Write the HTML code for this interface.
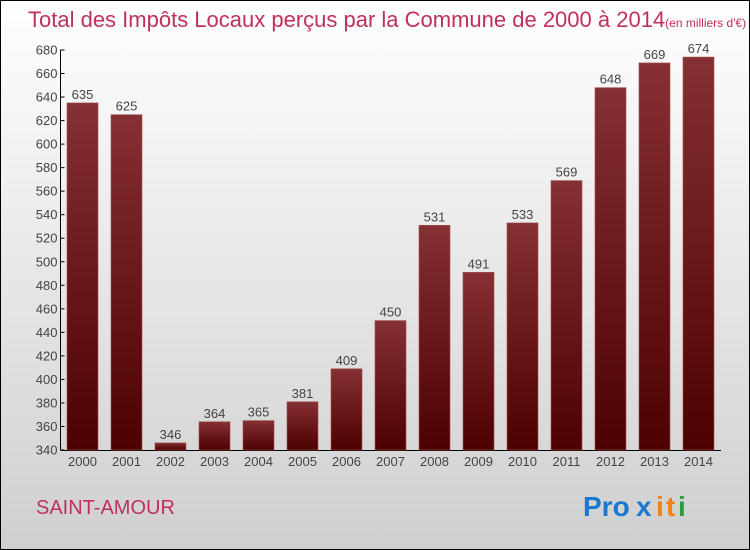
<!DOCTYPE html>
<html><head><meta charset="utf-8"><style>
html,body{margin:0;padding:0}
body{width:750px;height:550px;overflow:hidden}
svg{display:block;font-family:"Liberation Sans",sans-serif}
</style></head><body>
<svg id="c" width="750" height="550" xmlns="http://www.w3.org/2000/svg">
<defs>
<linearGradient id="bg" x1="0" y1="0" x2="0" y2="1"><stop offset="0" stop-color="#ffffff"/><stop offset="1" stop-color="#cfcfcf"/></linearGradient>
<linearGradient id="bar" x1="0" y1="0" x2="0" y2="1"><stop offset="0" stop-color="#853034"/><stop offset="1" stop-color="#4e0000"/></linearGradient>
</defs>
<rect x="0.5" y="0.5" width="749" height="549" fill="url(#bg)" stroke="#000"/>
<text x="28" y="27" font-size="22" fill="#c0305a">Total des Impôts Locaux perçus par la Commune de 2000 à 2014<tspan font-size="12">(en milliers d'€)</tspan></text>
<g id="axes"></g>
<g id="bars"></g>
<text x="36" y="514" font-size="20" fill="#c0305a">SAINT-AMOUR</text>
<g font-size="28" font-weight="bold">
<text x="583" y="516" fill="#1a78d0">Pro</text><text x="636" y="516" fill="#1a78d0">x</text><text x="656" y="516" fill="#f08010">i</text><text x="666" y="516" fill="#f08010">t</text><text x="678" y="516" fill="#2a9a3a">i</text>
</g>
</svg>
<script>
const categories=["2000","2001","2002","2003","2004","2005","2006","2007","2008","2009","2010","2011","2012","2013","2014"];
const values=[635,625,346,364,365,381,409,450,531,491,533,569,648,669,674];
const ticks=[340,360,380,400,420,440,460,480,500,520,540,560,580,600,620,640,660,680];
const NS="http://www.w3.org/2000/svg";
const y0=450,y1=50,vmin=340,vmax=680;
const yS=v=>y0-(v-vmin)*(y0-y1)/(vmax-vmin);
const x0=60.5,step=44,bw=31;
const xS=i=>x0+22+i*step;
function mk(t,a,p){const e=document.createElementNS(NS,t);for(const k in a)e.setAttribute(k,a[k]);p.appendChild(e);return e;}
const ax=document.getElementById('axes'),bg=document.getElementById('bars');
const yl=mk('line',{x1:x0,y1:y1,x2:x0,y2:y0,stroke:'#000'},ax);


const xl=mk('line',{x1:x0,y1:y0+0.5,x2:721,y2:y0+0.5,stroke:'#000'},ax);


ticks.forEach(t=>{
 const y=yS(t);
 mk('line',{x1:x0,y1:y,x2:x0+4,y2:y,stroke:'#000'},ax);
 const tx=mk('text',{x:x0-3,y:y+4.5,'font-size':13,'text-anchor':'end',fill:'#444'},ax);
 tx.textContent=t;
 
 
});
categories.forEach((c,i)=>{
 const cx=xS(i),v=values[i],y=yS(v);
 const r=mk('rect',{x:cx-bw/2,y:y,width:bw,height:y0-y,fill:'url(#bar)',stroke:'#a05050','stroke-width':0.6},bg);
 
 
 const vl=mk('text',{x:cx,y:y-4,'font-size':13,'text-anchor':'middle',fill:'#444'},bg);
 vl.textContent=v;
 
 
 const xl2=mk('text',{x:cx,y:466,'font-size':13,'text-anchor':'middle',fill:'#444'},bg);
 xl2.textContent=c;
 
 
});
</script>
</body></html>
